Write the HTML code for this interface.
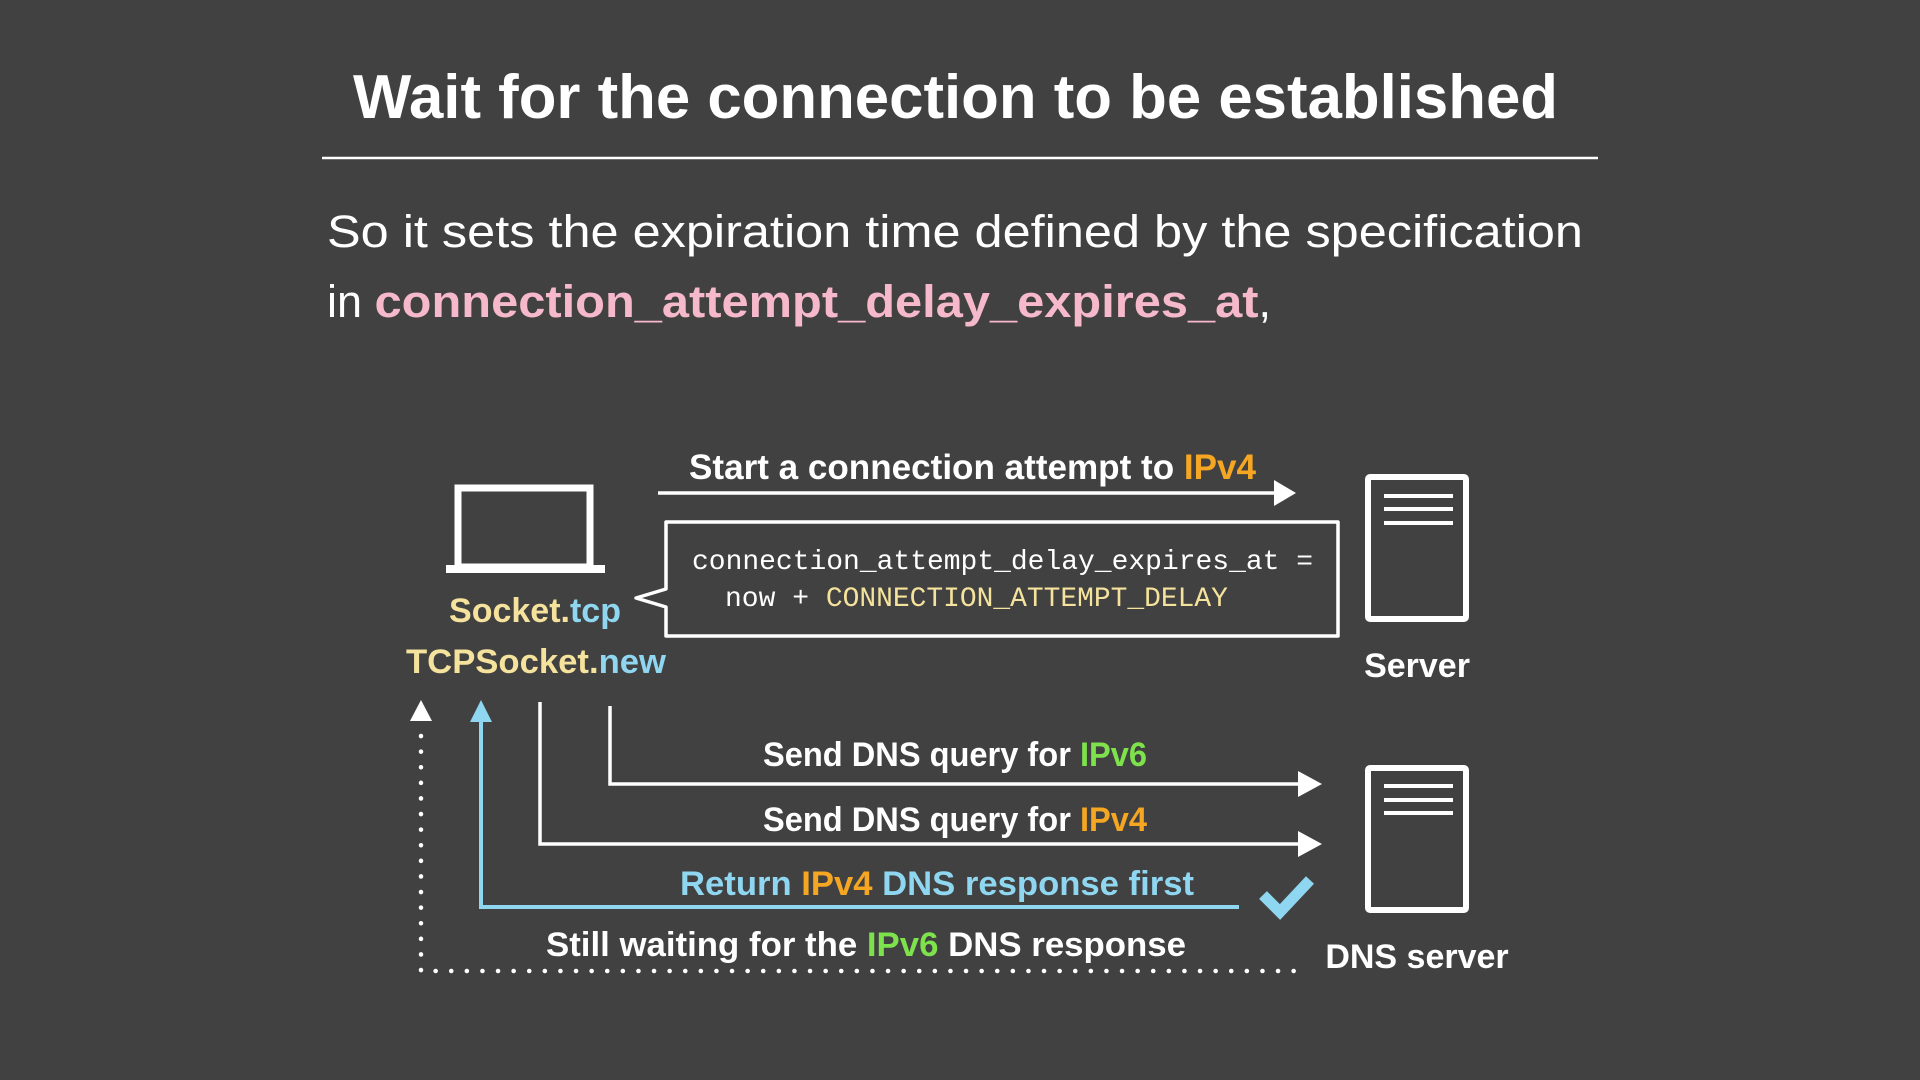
<!DOCTYPE html>
<html><head><meta charset="utf-8"><style>
html,body{margin:0;padding:0;background:#414141;}
svg{display:block}
text{font-family:"Liberation Sans","Noto Sans CJK JP",sans-serif;}
.m{font-family:"Liberation Mono","DejaVu Sans Mono",monospace;}
</style></head><body>
<svg width="1920" height="1080" viewBox="0 0 1920 1080" xmlns="http://www.w3.org/2000/svg">
<rect width="1920" height="1080" fill="#414141"/>
<text x="353" y="118" font-size="62" font-weight="bold" fill="#fff" textLength="1205" lengthAdjust="spacingAndGlyphs">Wait for the connection to be established</text>
<line x1="322" y1="158" x2="1598" y2="158" stroke="#fff" stroke-width="2.5"/>
<text x="327" y="247" font-size="45" fill="#fff" textLength="1256" lengthAdjust="spacingAndGlyphs">So it sets the expiration time defined by the specification</text>
<text x="327" y="317" font-size="45" fill="#fff">in <tspan fill="#f6b8cb" font-weight="bold" textLength="884" lengthAdjust="spacingAndGlyphs">connection_attempt_delay_expires_at</tspan>,</text>

<!-- laptop -->
<rect x="458" y="488" width="132" height="79" fill="none" stroke="#fff" stroke-width="7"/>
<rect x="446" y="565" width="159" height="8" fill="#fff"/>
<text x="535" y="622" font-size="34" font-weight="bold" fill="#f5e29c" text-anchor="middle">Socket.<tspan fill="#8fd6f0">tcp</tspan></text>
<text x="536" y="673" font-size="34" font-weight="bold" fill="#f5e29c" text-anchor="middle" textLength="260" lengthAdjust="spacingAndGlyphs">TCPSocket.<tspan fill="#8fd6f0">new</tspan></text>

<!-- top arrow -->
<text x="689" y="479" font-size="35" font-weight="bold" fill="#fff" textLength="567" lengthAdjust="spacingAndGlyphs">Start a connection attempt to <tspan fill="#f5a623">IPv4</tspan></text>
<line x1="658" y1="493" x2="1282" y2="493" stroke="#fff" stroke-width="3.5"/>
<polygon points="1274,480 1296,493 1274,506" fill="#fff"/>

<!-- box -->
<path d="M666,522 H1338 V636 H666 V607 L636,598 L666,589 Z" fill="none" stroke="#fff" stroke-width="3.5" stroke-linejoin="round"/>
<text class="m" x="692" y="569" font-size="28" fill="#fff" textLength="621" lengthAdjust="spacingAndGlyphs">connection_attempt_delay_expires_at =</text>
<text class="m" x="725" y="606" font-size="28" fill="#fff">now + <tspan fill="#f5e29c" textLength="402" lengthAdjust="spacingAndGlyphs">CONNECTION_ATTEMPT_DELAY</tspan></text>

<!-- server -->
<rect x="1368" y="477" width="98" height="142" fill="none" stroke="#fff" stroke-width="6" rx="2"/>
<line x1="1384" y1="496" x2="1453" y2="496" stroke="#fff" stroke-width="4"/>
<line x1="1384" y1="509" x2="1453" y2="509" stroke="#fff" stroke-width="4"/>
<line x1="1384" y1="523" x2="1453" y2="523" stroke="#fff" stroke-width="4"/>
<text x="1417" y="677" font-size="34" font-weight="bold" fill="#fff" text-anchor="middle">Server</text>

<!-- DNS server -->
<rect x="1368" y="768" width="98" height="142" fill="none" stroke="#fff" stroke-width="6" rx="2"/>
<line x1="1384" y1="786" x2="1453" y2="786" stroke="#fff" stroke-width="4"/>
<line x1="1384" y1="800" x2="1453" y2="800" stroke="#fff" stroke-width="4"/>
<line x1="1384" y1="813" x2="1453" y2="813" stroke="#fff" stroke-width="4"/>
<text x="1417" y="968" font-size="34" font-weight="bold" fill="#fff" text-anchor="middle">DNS server</text>

<!-- DNS IPv6 -->
<text x="763" y="766" font-size="34" font-weight="bold" fill="#fff" textLength="384" lengthAdjust="spacingAndGlyphs">Send DNS query for <tspan fill="#7de24b">IPv6</tspan></text>
<path d="M610,706 V784 H1305" fill="none" stroke="#fff" stroke-width="3.5"/>
<polygon points="1298,771 1322,784 1298,797" fill="#fff"/>
<!-- DNS IPv4 -->
<text x="763" y="831" font-size="34" font-weight="bold" fill="#fff" textLength="384" lengthAdjust="spacingAndGlyphs">Send DNS query for <tspan fill="#f5a623">IPv4</tspan></text>
<path d="M540,702 V844 H1305" fill="none" stroke="#fff" stroke-width="3.5"/>
<polygon points="1298,831 1322,844 1298,857" fill="#fff"/>

<!-- blue return -->
<text x="937" y="895" font-size="34" font-weight="bold" fill="#8fd6f0" text-anchor="middle" textLength="514" lengthAdjust="spacingAndGlyphs">Return <tspan fill="#f5a623">IPv4</tspan> DNS response first</text>
<path d="M1239,907 H481 V715" fill="none" stroke="#8fd6f0" stroke-width="4"/>
<polygon points="470,722 481,700 492,722" fill="#8fd6f0"/>
<path d="M1263,895 L1280,912 L1310,880" fill="none" stroke="#8fd6f0" stroke-width="11" stroke-linejoin="miter"/>

<!-- dotted -->
<text x="546" y="956" font-size="34" font-weight="bold" fill="#fff" textLength="640" lengthAdjust="spacingAndGlyphs">Still waiting for the <tspan fill="#7de24b">IPv6</tspan> DNS response</text>
<path d="M421,736 V971 H1298" fill="none" stroke="#fff" stroke-width="4.5" stroke-dasharray="0.1 15.5" stroke-linecap="round"/>
<polygon points="410,721 421,700 432,721" fill="#fff"/>
</svg>
</body></html>
